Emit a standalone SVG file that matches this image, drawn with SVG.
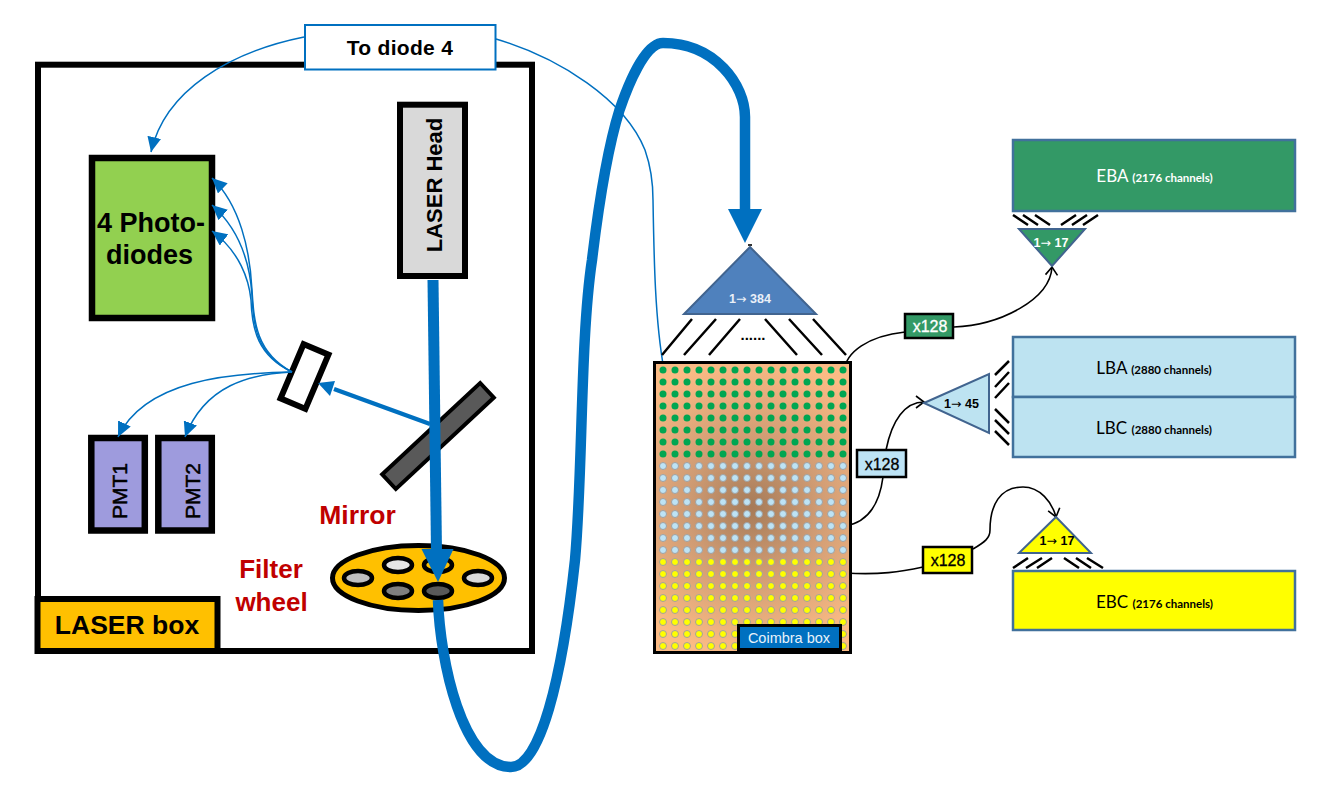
<svg xmlns="http://www.w3.org/2000/svg" width="1328" height="791" viewBox="0 0 1328 791">
<style>
text{font-family:"Liberation Sans",Arial,sans-serif}
.k{fill:none;stroke:#000;stroke-width:2.5}
.bl{fill:none;stroke:#0070C0;stroke-width:1.5}
.big{fill:none;stroke:#0070C0;stroke-linejoin:round}
.cur{fill:none;stroke:#000;stroke-width:1.6}
.box{stroke:#000;stroke-width:6.5}
.mod{stroke:#41719C;stroke-width:2.5}
.tri{stroke:#41648F;stroke-width:2}
.lab{font-family:Lato,"Liberation Sans",sans-serif;font-size:17px;text-anchor:middle}
.lab tspan{font-size:11.500px;font-weight:700}
.x{font-size:16px;text-anchor:middle;stroke-width:.3}
.s{font-size:12.500px;font-weight:700;text-anchor:middle}
.s tspan{font-family:"DejaVu Sans",sans-serif;font-weight:400}
.pm{font-size:21px;stroke:#000;stroke-width:.5}
.red{fill:#C00000;font-size:26px;font-weight:700;text-anchor:middle}
.hole{stroke:#000;stroke-width:4.5}
.g{fill:#00A651}
.b{fill:#BDE3F5;stroke:#A0A0A0;stroke-width:1}
.y{fill:#FFFF00;stroke:#A0A0A0;stroke-width:1}
</style>
<defs>
<marker id="a" markerUnits="userSpaceOnUse" markerWidth="16" markerHeight="14" refX="15" refY="7" orient="auto"><path d="M0 0L15 7L0 14z" fill="#0070C0"/></marker>
<marker id="o" markerUnits="userSpaceOnUse" markerWidth="12" markerHeight="14" refX="10" refY="7" orient="auto"><path d="M2 1L10 7L2 13" fill="none" stroke="#000" stroke-width="1.6"/></marker>
<radialGradient id="cb" gradientUnits="userSpaceOnUse" cx="752" cy="507" r="150"><stop offset="0" stop-color="#A67B58"/><stop offset=".45" stop-color="#D09C74"/><stop offset="1" stop-color="#FBBB85"/></radialGradient>
<g id="row"><circle cx="663" r="3.500"/><circle cx="675" r="3.500"/><circle cx="687" r="3.500"/><circle cx="699" r="3.500"/><circle cx="711" r="3.500"/><circle cx="723" r="3.500"/><circle cx="735" r="3.500"/><circle cx="747" r="3.500"/><circle cx="759" r="3.500"/><circle cx="771" r="3.500"/><circle cx="783" r="3.500"/><circle cx="795" r="3.500"/><circle cx="807" r="3.500"/><circle cx="819" r="3.500"/><circle cx="831" r="3.500"/><circle cx="843" r="3.500"/></g>
</defs>

<g id="laser-box-frame"><rect x="38" y="64.700" width="494" height="586.300" fill="#fff" stroke="#000" stroke-width="6"/></g>
<g id="laser-box-label"><rect x="37.500" y="599" width="180" height="52" fill="#FFC000" stroke="#000" stroke-width="6"/><text x="127" y="634" font-size="26.500" font-weight="700" text-anchor="middle">LASER box</text></g>
<g id="photodiodes"><rect x="92" y="158" width="120" height="160" fill="#92D050" class="box"/><text x="151" y="232" font-size="27" font-weight="700" text-anchor="middle">4 Photo-</text><text x="149.500" y="264" font-size="27" font-weight="700" text-anchor="middle">diodes</text></g>
<g id="laser-head"><rect x="400" y="104.700" width="65" height="171.300" fill="#D9D9D9" stroke="#000" stroke-width="6"/><text transform="translate(441.500 185) rotate(-90)" font-size="22" font-weight="700" text-anchor="middle">LASER Head</text></g>
<g id="pmt1"><rect x="91.300" y="438" width="53.500" height="92.500" fill="#9E9BDD" class="box"/><text transform="translate(126.500 519) rotate(-90)" class="pm">PMT1</text></g>
<g id="pmt2"><rect x="158.300" y="438" width="53.500" height="92.500" fill="#9E9BDD" class="box"/><text transform="translate(199.500 519) rotate(-90)" class="pm">PMT2</text></g>
<g id="splitter"><rect x="-13.500" y="-29.500" width="27" height="59" transform="translate(304.500 376.500) rotate(23)" fill="#fff" stroke="#000" stroke-width="6"/></g>
<g id="mirror"><rect x="-10" y="-67" width="20" height="134" transform="translate(438 436) rotate(47)" fill="#595959" stroke="#000" stroke-width="4"/><text x="357.500" y="524" class="red" style="font-size:26.500px">Mirror</text></g>
<g id="filter-wheel">
<ellipse cx="418.500" cy="578" rx="86" ry="32.500" fill="#FFC000" stroke="#000" stroke-width="5"/>
<ellipse cx="358" cy="578" rx="14" ry="7" fill="#BFBFBF" class="hole"/>
<ellipse cx="398" cy="565" rx="14" ry="7" fill="#E6E6E6" class="hole"/>
<ellipse cx="438" cy="565" rx="14" ry="7" fill="#FFC000" class="hole"/>
<ellipse cx="478" cy="578" rx="14" ry="7" fill="#D9D9D9" class="hole"/>
<ellipse cx="398" cy="591" rx="14" ry="7" fill="#7F7F7F" class="hole"/>
<ellipse cx="438" cy="591" rx="14" ry="7" fill="#595959" class="hole"/>
<text x="271" y="578" class="red">Filter</text><text x="271.500" y="611" class="red">wheel</text>
</g>
<g id="to-diode-4"><rect x="305" y="25" width="190.500" height="44.500" fill="#fff" stroke="#0070C0" stroke-width="2"/><text x="400" y="55" font-size="21" font-weight="700" text-anchor="middle" letter-spacing=".3">To diode 4</text></g>

<g id="connectors">
<path class="bl" d="M304 37C230 52 165 90 151 152" marker-end="url(#a)"/>
<path class="bl" d="M496 39C560 58 625 100 645 150C652 170 653 185 653 200C654 260 655 320 664 370"/>
<path class="bl" d="M292 372C255 352 254 320 252 290C250 250 240 205 212 178" marker-end="url(#a)"/>
<path class="bl" d="M292 372C256 354 253 325 252 295C250 265 240 230 212 205" marker-end="url(#a)"/>
<path class="bl" d="M292 372C258 356 252 330 251 300C249 280 240 252 212 231" marker-end="url(#a)"/>
<path class="bl" d="M292 372C230 373 145 380 118 437" marker-end="url(#a)"/>
<path class="bl" d="M292 372C250 374 205 385 185 437" marker-end="url(#a)"/>
<path d="M430 424L334 389" fill="none" stroke="#0070C0" stroke-width="4.500"/><path d="M318 383L335 381L330 396z" fill="#0070C0"/>
<path class="big" stroke-width="11" d="M433 280L436.500 552"/><path d="M421.500 549H453.500L438 582z" fill="#0070C0"/>
<path class="big" stroke-width="10.500" d="M438 600C440 660 462 767 511 767C540 767 562 680 575 560C583 470 580 340 592 260C598 210 607 150 619.500 110C628 85 645 43 663 43C715 43 745 85 745 117V215"/>
<path d="M728 209H762L745 243z" fill="#0070C0"/>
<path class="cur" d="M748 245H752"/>
<path class="cur" d="M844 371C846 352 868 336 905 332"/>
<path class="cur" d="M954 327C1000 325 1050 300 1052 267" marker-end="url(#o)"/>
<path class="cur" d="M845 526C870 522 880 500 883 477"/>
<path class="cur" d="M886 450C892 420 905 402 924 402" marker-end="url(#o)"/>
<path class="cur" d="M845 573C880 575 900 572 923 567"/>
<path class="cur" d="M973 549C985 542 990 538 990 530C990 505 1000 487 1023 487C1040 487 1052 502 1056 517" marker-end="url(#o)"/>
</g>

<g id="coimbra-box">
<rect x="654.500" y="362.500" width="196" height="290" fill="url(#cb)" stroke="#000" stroke-width="3"/>
<g class="g"><use href="#row" y="370"/><use href="#row" y="382"/><use href="#row" y="394"/><use href="#row" y="406"/><use href="#row" y="418"/><use href="#row" y="430"/><use href="#row" y="442"/><use href="#row" y="454"/></g>
<g class="b"><use href="#row" y="466"/><use href="#row" y="478"/><use href="#row" y="490"/><use href="#row" y="502"/><use href="#row" y="514"/><use href="#row" y="526"/><use href="#row" y="538"/><use href="#row" y="550"/></g>
<g class="y"><use href="#row" y="562"/><use href="#row" y="574"/><use href="#row" y="586"/><use href="#row" y="598"/><use href="#row" y="610"/><use href="#row" y="622"/><use href="#row" y="634"/><use href="#row" y="646"/></g>
<rect x="738.500" y="625.500" width="102" height="24" fill="#0070C0" stroke="#000" stroke-width="3"/>
<text x="789" y="642.500" font-size="14.500" fill="#E8F2FA" text-anchor="middle">Coimbra box</text>
</g>
<g id="splitter-384">
<path d="M750 247L816 314H684z" fill="#4F81BD" class="tri"/>
<text x="750" y="302.500" class="s" fill="#EAF0F8">1<tspan>→</tspan> 384</text>
<path class="k" d="M692 319L662 355M716 319L684 355M740 319L709 355M765 319L797 355M789 319L822 355M813 319L846 355"/>
<text x="753" y="340" font-size="15" font-weight="700" text-anchor="middle">......</text>
</g>
<g id="x128-green"><rect x="905" y="314" width="48" height="24" fill="#339966" stroke="#000" stroke-width="2.500"/><text x="930" y="331.500" class="x" fill="#fff" stroke="#fff">x128</text></g>
<g id="x128-blue"><rect x="857" y="450" width="49" height="27" fill="#BDE3F5" stroke="#000" stroke-width="2.500"/><text x="882" y="469.500" class="x" stroke="#000">x128</text></g>
<g id="x128-yellow"><rect x="923" y="547" width="49" height="26" fill="#FFFF00" stroke="#000" stroke-width="2.500"/><text x="948" y="565.500" class="x" stroke="#000">x128</text></g>
<g id="eba"><rect x="1013" y="140" width="282" height="71" fill="#339966" class="mod"/><text x="1154.500" y="182" class="lab" fill="#fff">EBA <tspan>(2176 channels)</tspan></text>
<path class="k" d="M1013 215L1028 225M1023 215L1038 225M1035 215L1050 225M1061 225L1076 215M1072 225L1087 215M1083 225L1098 215"/>
</g>
<g id="splitter-17-a"><path d="M1019 229H1085L1052 266z" fill="#339966" class="tri"/><text x="1051" y="247" class="s" fill="#fff">1<tspan>→</tspan> 17</text></g>
<g id="lba"><rect x="1013" y="337" width="282" height="60" fill="#BDE3F1" class="mod"/><text x="1154" y="374" class="lab">LBA <tspan>(2880 channels)</tspan></text></g>
<g id="lbc"><rect x="1013" y="397" width="282" height="60" fill="#BDE3F1" class="mod"/><text x="1154" y="434" class="lab">LBC <tspan>(2880 channels)</tspan></text></g>
<g id="splitter-45"><path d="M924 403L989 374V433z" fill="#BDE3F1" class="tri"/><text x="961.500" y="408" class="s">1<tspan>→</tspan> 45</text>
<path class="k" d="M995 375L1009 361M995 387L1009 372M995 398L1009 383M995 409L1009 423M995 420L1009 434M995 431L1009 445"/></g>
<g id="splitter-17-c"><path d="M1056 517L1091 553H1019z" fill="#FFFF00" class="tri"/><text x="1057" y="545" class="s">1<tspan>→</tspan> 17</text>
<path class="k" d="M1013 568L1028 558M1026 568L1042 558M1037 568L1052 558M1064 558L1079 568M1076 558L1091 568M1087 558L1103 568"/></g>
<g id="ebc"><rect x="1013" y="571" width="282" height="59" fill="#FFFF00" class="mod"/><text x="1154.500" y="608" class="lab">EBC <tspan>(2176 channels)</tspan></text></g>
</svg>
